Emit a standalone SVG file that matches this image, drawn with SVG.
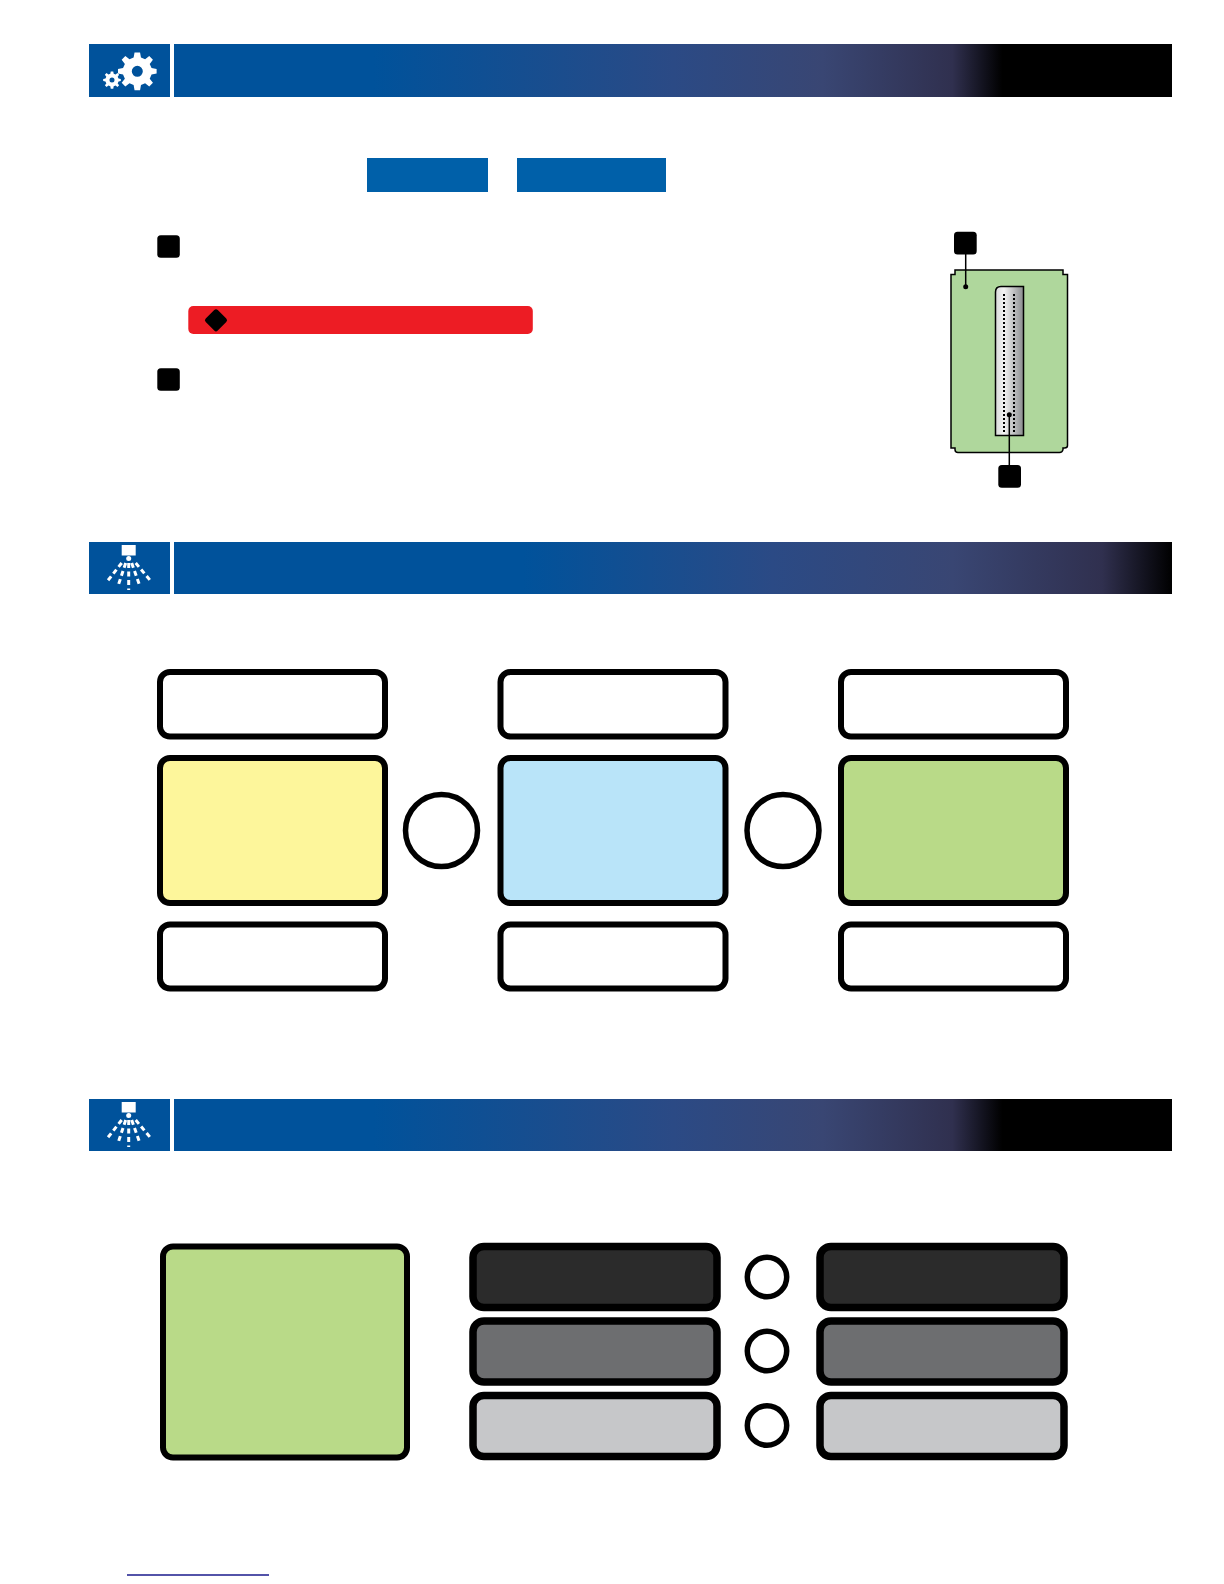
<svg xmlns="http://www.w3.org/2000/svg" width="1224" height="1584" viewBox="0 0 1224 1584">
<style>
.hd{fill:#00529b}
.w{fill:#fff;stroke:#000;stroke-width:6}
.t{stroke:#000;stroke-width:6}
.d{stroke:#000;stroke-width:7.500}
.c{fill:#fff;stroke:#000;stroke-width:5.500}
.k{fill:#000}
.ln{stroke:#000;stroke-width:1.500;fill:none}
.sp{stroke:#fff;stroke-width:3;fill:none;stroke-dasharray:5 3.500}
</style>
<defs>
<linearGradient id="g1" x1="0" x2="1" y1="0" y2="0"><stop offset="0" stop-color="#00529b"/><stop offset=".2" stop-color="#00529b"/><stop offset=".5" stop-color="#2b4a85"/><stop offset=".65" stop-color="#394673"/><stop offset=".78" stop-color="#30304f"/><stop offset=".83" stop-color="#000"/><stop offset="1" stop-color="#000"/></linearGradient>
<linearGradient id="g2" x1="0" x2="1" y1="0" y2="0"><stop offset="0" stop-color="#00529b"/><stop offset=".35" stop-color="#00529b"/><stop offset=".6" stop-color="#2b4a85"/><stop offset=".78" stop-color="#394673"/><stop offset=".93" stop-color="#30304f"/><stop offset="1" stop-color="#000"/></linearGradient>
<linearGradient id="m" x1="0" x2="1" y1="0" y2="0"><stop offset="0" stop-color="#d8d9da"/><stop offset=".3" stop-color="#f4f4f4"/><stop offset="1" stop-color="#8a8c8e"/></linearGradient>
<g id="spray"><rect x="-7" y="3" width="14" height="10.500" fill="#fff"/><circle cx="0" cy="16.500" r="2.500" fill="#fff"/>
<path class="sp" d="M0 21V48M-3 21L-11 45M3 21L11.500 45M-7 21L-22 40M7 21L22 39"/></g>
<path id="gear" fill="#fff" fill-rule="evenodd" d="M-3-18H3L4-12.500L8.500-10.500L13-14L17-10L13.500-5.500L15.500-1L21 0 21 5 15.500 6L13.500 10.500L17 15L13 19L8.500 15.500L4 17.500L3 23H-3L-4 17.500L-8.500 15.500L-13 19L-17 15L-13.500 10.500L-15.500 6L-21 5V0L-15.500-1L-13.500-5.500L-17-10L-13-14L-8.500-10.500L-4-12.500ZM0 -3.500A6 6 0 1 0 0 8.500A6 6 0 1 0 0-3.500Z"/>
</defs>
<g id="header-1"><rect class="hd" x="89" y="44" width="81" height="53"/><rect x="174" y="44" width="998" height="53" fill="url(#g1)"/>
<use href="#gear" transform="translate(137.300 69) scale(.92)"/><use href="#gear" transform="translate(112 79) scale(.42)"/></g>
<g id="tab-1"><rect x="367" y="158" width="121" height="34" fill="#0060a9"/></g>
<g id="tab-2"><rect x="517" y="158" width="149" height="34" fill="#0060a9"/></g>
<g id="badge-1"><rect class="k" x="157.300" y="235.300" width="22.500" height="22.500" rx="3.500"/></g>
<g id="warning"><rect x="188.300" y="306" width="344.500" height="28" rx="5" fill="#ed1c24"/><rect class="k" x="207.500" y="311.800" width="17" height="17" rx="2.500" transform="rotate(45 216 320.300)"/></g>
<g id="badge-2"><rect class="k" x="157.300" y="368.300" width="22.500" height="22.500" rx="3.500"/></g>
<g id="panel">
<path d="M955 270H1063V274.500H1067.500V445.500Q1067.500 448 1064.500 448H1063V449.500Q1062.500 452.500 1059.500 452.500H958Q955 452.500 955 449.500V448H951V274.500H955Z" fill="#afd79c" stroke="#000" stroke-width="1.500"/>
<path d="M1023.500 286.500V435.500H995.500V292Q995.500 286.500 1001 286.500Z" fill="url(#m)" stroke="#000" stroke-width="1.500"/>
<path d="M1004 294V432M1014 294V432" stroke="#000" stroke-width="2" stroke-dasharray="2 2" fill="none"/>
</g>
<g id="badge-3"><rect class="k" x="954" y="231.700" width="22.700" height="22.700" rx="3.500"/></g>
<g id="badge-4"><rect class="k" x="998.300" y="465" width="22.700" height="22.700" rx="3.500"/></g>
<g id="header-2"><rect class="hd" x="89" y="542" width="81" height="52"/><rect x="174" y="542" width="998" height="52" fill="url(#g2)"/><use href="#spray" x="128.700" y="542"/></g>
<g id="box-a1"><rect class="w" x="160" y="672" width="225" height="64.500" rx="10"/></g>
<g id="box-a2"><rect class="t" x="160" y="758" width="225" height="145" rx="10" fill="#fdf69b"/></g>
<g id="box-a3"><rect class="w" x="160" y="924.500" width="225" height="64" rx="10"/></g>
<g id="box-b1"><rect class="w" x="500.500" y="672" width="225" height="64.500" rx="10"/></g>
<g id="box-b2"><rect class="t" x="500.500" y="758" width="225" height="145" rx="10" fill="#b9e4f9"/></g>
<g id="box-b3"><rect class="w" x="500.500" y="924.500" width="225" height="64" rx="10"/></g>
<g id="box-c1"><rect class="w" x="841" y="672" width="225" height="64.500" rx="10"/></g>
<g id="box-c2"><rect class="t" x="841" y="758" width="225" height="145" rx="10" fill="#b9da88"/></g>
<g id="box-c3"><rect class="w" x="841" y="924.500" width="225" height="64" rx="10"/></g>
<g id="op-1"><circle class="c" cx="441.500" cy="830.500" r="36"/></g>
<g id="op-2"><circle class="c" cx="783" cy="830.500" r="36"/></g>
<g id="header-3"><rect class="hd" x="89" y="1099" width="81" height="52"/><rect x="174" y="1099" width="998" height="52" fill="url(#g1)"/><use href="#spray" x="128.700" y="1099"/></g>
<g id="box-d"><rect class="t" x="163" y="1246.500" width="244" height="211" rx="10" fill="#b9da88"/></g>
<g id="box-e1"><rect class="d" x="473" y="1246.500" width="244" height="61" rx="11" fill="#2b2b2b"/></g>
<g id="box-e2"><rect class="d" x="473" y="1321" width="244" height="61" rx="11" fill="#6d6e70"/></g>
<g id="box-e3"><rect class="d" x="473" y="1395.500" width="244" height="61" rx="11" fill="#c6c7c9"/></g>
<g id="box-f1"><rect class="d" x="820" y="1246.500" width="244" height="61" rx="11" fill="#2b2b2b"/></g>
<g id="box-f2"><rect class="d" x="820" y="1321" width="244" height="61" rx="11" fill="#6d6e70"/></g>
<g id="box-f3"><rect class="d" x="820" y="1395.500" width="244" height="61" rx="11" fill="#c6c7c9"/></g>
<g id="op-3"><circle class="c" cx="767" cy="1277" r="19.700"/></g>
<g id="op-4"><circle class="c" cx="767" cy="1351" r="19.700"/></g>
<g id="op-5"><circle class="c" cx="767" cy="1425.500" r="19.700"/></g>
<g id="connectors">
<path class="ln" d="M965.700 254V286.700"/><circle class="k" cx="965.700" cy="286.700" r="2.500"/>
<path class="ln" d="M1009.300 414.700V465"/><circle class="k" cx="1009.300" cy="414.700" r="2.500"/>
</g>
<path id="footer-link" d="M127 1575H269" stroke="#1a1a8c" stroke-width="1.300"/>
</svg>
